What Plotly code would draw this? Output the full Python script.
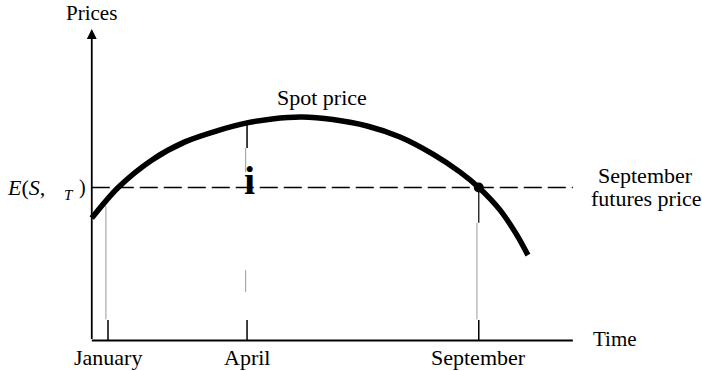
import plotly.graph_objects as go

# --- data -------------------------------------------------------------
# time in months (January = 1), spot price in arbitrary units
spot_months = [0.65, 1.22, 1.95, 2.66, 3.37, 4.0, 4.54, 5.19,
               5.85, 6.59, 7.3, 8.01, 8.59, 9.0, 9.46, 9.82, 10.06]
spot_prices = [40.0, 50.0, 59.0, 64.9, 68.6, 71.1, 72.4, 73.0,
               72.2, 70.1, 66.5, 60.9, 55.1, 50.0, 42.6, 34.5, 27.9]

tick_months = [1, 4, 9]
tick_labels = ["January", "April", "September"]

expected_spot = 50.0      # E(S_T) = September futures price
delivery_month = 9        # September

time_start = 0.65         # origin of the time axis
time_end = 11.03          # end of the time axis
price_top = 101.8         # tip of the price axis arrow

# --- layout helpers ---------------------------------------------------
W, H = 702, 371
X_RANGE = [-1.330, 13.816]
Y_RANGE = [-9.97, 111.27]


def fx(px):
    return px / W


def fy(py):
    return 1 - py / H


SERIF = "Liberation Serif, Times New Roman, serif"
fig = go.Figure()

# spot price curve
fig.add_trace(go.Scatter(
    x=spot_months, y=spot_prices, mode="lines",
    line=dict(color="black", width=5.5, shape="spline", smoothing=0.9),
    hoverinfo="skip"))

# horizontal dashed line at the expected spot price / futures price
fig.add_trace(go.Scatter(
    x=[time_start, time_end], y=[expected_spot, expected_spot], mode="lines",
    line=dict(color="black", width=1.5, dash="18px,6px"), hoverinfo="skip"))

# point where the curve meets the futures price in September
fig.add_trace(go.Scatter(
    x=[delivery_month], y=[expected_spot], mode="markers",
    marker=dict(color="black", size=10), hoverinfo="skip"))

shapes = []
# time axis
shapes.append(dict(type="line", xref="x", yref="y", x0=time_start, x1=time_end,
                   y0=0, y1=0, line=dict(color="black", width=2)))

# month guides: short black tick plus thin grey drop line from the curve
for m in tick_months:
    shapes.append(dict(type="line", xref="x", yref="y", x0=m, x1=m,
                       y0=0, y1=6.7, line=dict(color="black", width=1.5)))

# January guide
shapes.append(dict(type="line", xref="x", yref="y", x0=0.955, x1=0.955,
                   y0=6.9, y1=44.0, line=dict(color="#9a9a9a", width=1)))
# April guide (broken)
shapes.append(dict(type="line", xref="x", yref="y", x0=4, x1=4,
                   y0=62.9, y1=71.1, line=dict(color="black", width=1.5)))
shapes.append(dict(type="line", xref="x", yref="y", x0=3.97, x1=3.97,
                   y0=55.0, y1=62.9, line=dict(color="#9a9a9a", width=1)))
shapes.append(dict(type="line", xref="x", yref="y", x0=3.97, x1=3.97,
                   y0=15.8, y1=23.0, line=dict(color="#9a9a9a", width=1)))
# September guide
shapes.append(dict(type="line", xref="x", yref="y", x0=9, x1=9,
                   y0=38.5, y1=expected_spot, line=dict(color="black", width=1.2)))
shapes.append(dict(type="line", xref="x", yref="y", x0=8.96, x1=8.96,
                   y0=6.9, y1=38.5, line=dict(color="#9a9a9a", width=1)))

annotations = []
# price axis with arrow
annotations.append(dict(x=time_start, y=price_top, ax=time_start, ay=0,
                        xref="x", yref="y", axref="x", ayref="y",
                        showarrow=True, arrowhead=2, arrowsize=1.1,
                        arrowwidth=1.8, arrowcolor="black", text=""))

for m, lab in zip(tick_months, tick_labels):
    annotations.append(dict(x=m, y=fy(357), xref="x", yref="paper",
                            text=lab, showarrow=False,
                            font=dict(family=SERIF, size=22, color="black"),
                            xanchor="center", yanchor="middle"))

annotations += [
    dict(x=fx(91), y=fy(13), text="Prices", font=dict(size=21)),
    dict(x=fx(591), y=fy(339), text="Time", font=dict(size=21), xanchor="left"),
    dict(x=fx(322), y=fy(97), text="Spot price", font=dict(size=22)),
    dict(x=fx(645), y=fy(175), text="September", font=dict(size=22)),
    dict(x=fx(646), y=fy(198), text="futures price", font=dict(size=22)),
    dict(x=fx(5), y=fy(188), text="<i>E</i>(<i>S</i>,", font=dict(size=22),
         xanchor="left"),
    dict(x=fx(62), y=fy(195), text="<i>T</i>", font=dict(size=15),
         xanchor="left"),
    dict(x=fx(77), y=fy(188), text=")", font=dict(size=20), xanchor="left"),
    dict(x=fx(249), y=fy(180), text="<b>i</b>", font=dict(size=40)),
]
for a in annotations[1 + len(tick_months):]:
    a.setdefault("xref", "paper")
    a.setdefault("yref", "paper")
    a.setdefault("showarrow", False)
    a.setdefault("xanchor", "center")
    a.setdefault("yanchor", "middle")
    a["font"] = dict(family=SERIF, color="black", **a["font"])

fig.update_layout(
    width=W, height=H, margin=dict(l=0, r=0, t=0, b=0),
    paper_bgcolor="white", plot_bgcolor="white", showlegend=False,
    xaxis=dict(range=X_RANGE, visible=False, fixedrange=True),
    yaxis=dict(range=Y_RANGE, visible=False, fixedrange=True),
    shapes=shapes, annotations=annotations)

fig.write_html("out.html")
